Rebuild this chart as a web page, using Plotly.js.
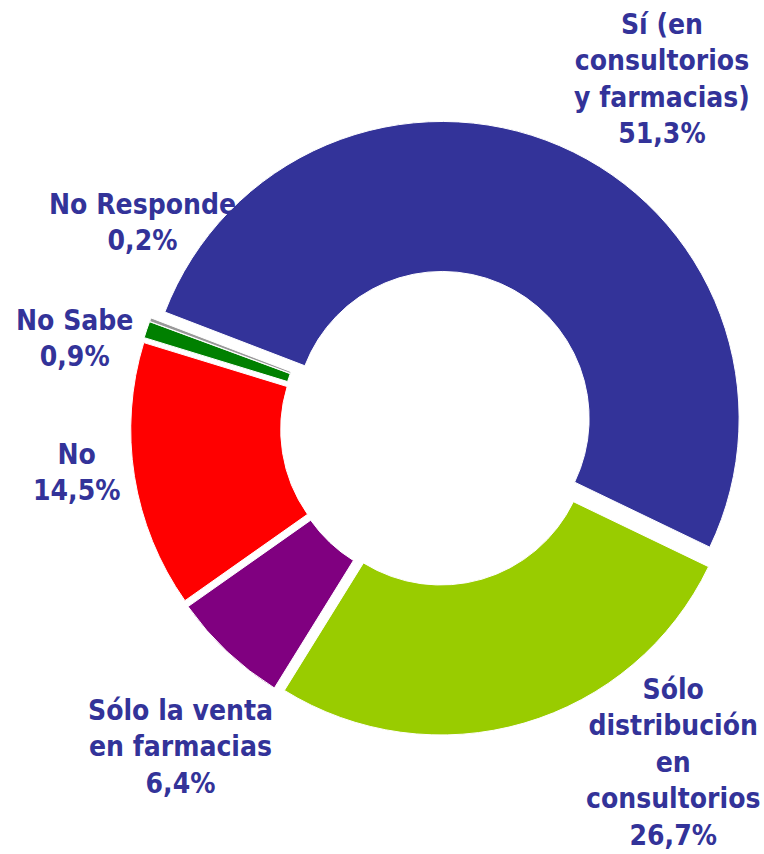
<!DOCTYPE html>
<html>
<head>
<meta charset="utf-8">
<script src="https://cdn.plot.ly/plotly-3.0.1.min.js"></script>
<style>
  html, body { margin: 0; padding: 0; background: #ffffff; }
  #chart { width: 764px; height: 854px; }
</style>
</head>
<body>
<div id="chart"></div>
<script>
// ---- data ----
const categories = [
  "Sí (en<br>consultorios<br>y farmacias)",
  "Sólo<br>distribución<br>en<br>consultorios",
  "Sólo la venta<br>en farmacias",
  "No",
  "No Sabe",
  "No Responde"
];
const values = [51.3, 26.7, 6.4, 14.5, 0.9, 0.2];
const valueLabels = ["51,3%", "26,7%", "6,4%", "14,5%", "0,9%", "0,2%"];

// ---- styles / positions (not data) ----
const colors = ["#333399", "#99CC00", "#800080", "#FF0000", "#008000", "#999999"];
const W = 764, H = 854;
const labelPx = [
  [662, 79],
  [673, 762],
  [180, 747],
  [76, 473],
  [74, 338],
  [142, 222]
];

const center = [438, 428];
const rOuter = 297;
const pullAmt = 0.035;
const half = rOuter * (1 + pullAmt);

const trace = {
  type: "pie",
  labels: categories,
  values: values,
  sort: false,
  direction: "clockwise",
  rotation: 291,
  hole: 0.495,
  pull: values.map(() => pullAmt),
  textinfo: "none",
  hoverinfo: "skip",
  marker: { colors: colors, line: { color: "#ffffff", width: 1 } },
  domain: {
    x: [(center[0] - half) / W, (center[0] + half) / W],
    y: [(H - center[1] - half) / H, (H - center[1] + half) / H]
  },
  showlegend: false
};

const annotations = categories.map((c, i) => ({
  text: c + "<br>" + valueLabels[i],
  x: labelPx[i][0] / W,
  y: 1 - labelPx[i][1] / H,
  xref: "paper",
  yref: "paper",
  xanchor: "center",
  yanchor: "middle",
  align: "center",
  showarrow: false,
  font: { family: "DejaVu Sans Condensed, DejaVu Sans, sans-serif", size: 28, color: "#333399", weight: "bold" }
}));

const layout = {
  width: W,
  height: H,
  margin: { l: 0, r: 0, t: 0, b: 0 },
  paper_bgcolor: "#ffffff",
  plot_bgcolor: "#ffffff",
  annotations: annotations
};

Plotly.newPlot("chart", [trace], layout, { staticPlot: true, displayModeBar: false });
</script>
</body>
</html>
